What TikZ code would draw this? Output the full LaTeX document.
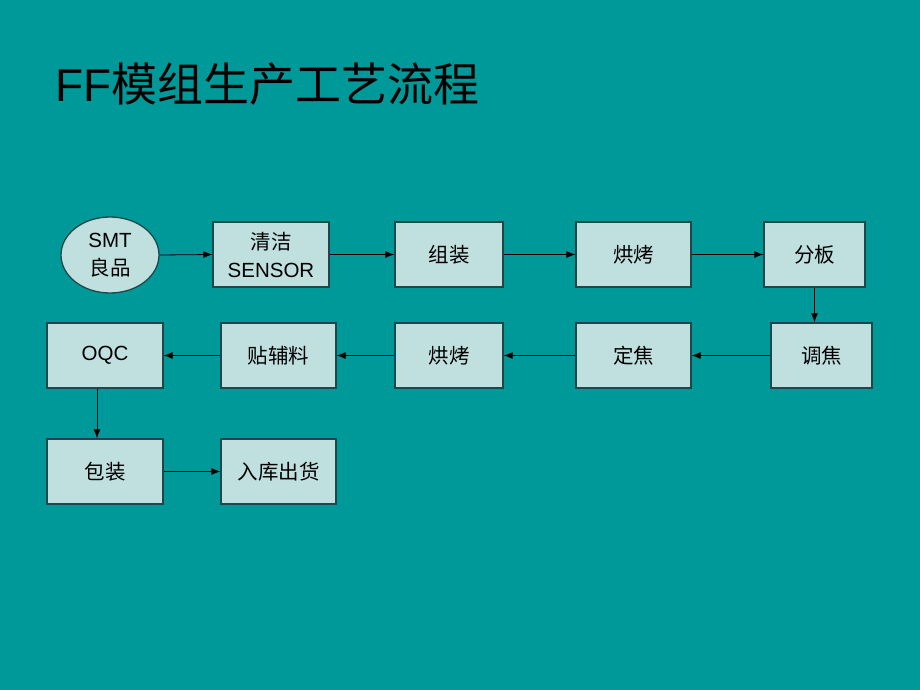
\documentclass[tikz,border=0pt]{standalone}
\usepackage{fontspec}
\setmainfont{Liberation Sans}
\newfontfamily\cjk{Noto Sans CJK SC}
\usetikzlibrary{arrows.meta,shapes.geometric}
\definecolor{bgteal}{HTML}{009999}
\definecolor{boxfill}{HTML}{C0E0E0}
\definecolor{boxline}{HTML}{1E4848}
\tikzset{
  stepbox/.style={draw=boxline, line width=1.3pt, fill=boxfill, inner sep=0pt, align=center, font=\fontsize{20.5}{28}\selectfont},
  flow/.style={draw=black, line width=0.8pt, -{Latex[length=9pt,width=7pt]}},
}
\begin{document}
\begin{tikzpicture}[x=1pt,y=-1pt]
\fill[bgteal] (0,0) rectangle (920,690);
\useasboundingbox (0,0) rectangle (920,690);
\node[anchor=base west, font=\fontsize{46}{50}\selectfont, inner sep=0pt] (title) at (55,102) {FF{\cjk 模组生产工艺流程}};
% row 1
\node[stepbox, ellipse, minimum width=98pt, minimum height=76pt] (smt) at (110,255) {SMT\\{\cjk 良品}};
\node[stepbox, minimum width=116pt, minimum height=65pt] (clean) at (271,254.5) {{\cjk 清洁}\\SENSOR};
\node[stepbox, minimum width=108pt, minimum height=65pt] (asm) at (449,254.5) {\cjk 组装};
\node[stepbox, minimum width=115pt, minimum height=65pt] (bake1) at (633.5,254.5) {\cjk 烘烤};
\node[stepbox, minimum width=101pt, minimum height=65pt] (split) at (814.5,254.5) {\cjk 分板};
% row 2
\node[stepbox, minimum width=101pt, minimum height=65pt] (adj) at (821.5,355.5) {\cjk 调焦};
\node[stepbox, minimum width=115pt, minimum height=65pt] (fix) at (633.5,355.5) {\cjk 定焦};
\node[stepbox, minimum width=108pt, minimum height=65pt] (bake2) at (449,355.5) {\cjk 烘烤};
\node[stepbox, minimum width=115pt, minimum height=65pt] (attach) at (278.5,355.5) {\cjk 贴辅料};
\node[stepbox, minimum width=116pt, minimum height=65pt] (oqc) at (105,355.5) {OQC};
% row 3
\node[stepbox, minimum width=116pt, minimum height=65pt] (pack) at (105,471.5) {\cjk 包装};
\node[stepbox, minimum width=115pt, minimum height=65pt] (store) at (278.5,471.5) {\cjk 入库出货};
% connectors
\draw[flow] (smt.east) -- (clean.west);
\draw[flow] (clean.east) -- (asm.west);
\draw[flow] (asm.east) -- (bake1.west);
\draw[flow] (bake1.east) -- (split.west);
\draw[flow] (split.south) -- (split.south |- adj.north);
\draw[flow] (adj.west) -- (fix.east);
\draw[flow] (fix.west) -- (bake2.east);
\draw[flow] (bake2.west) -- (attach.east);
\draw[flow] (attach.west) -- (oqc.east);
\draw[flow] ([xshift=-8pt]oqc.south) -- ([xshift=-8pt]pack.north);
\draw[flow] (pack.east) -- (store.west);
\end{tikzpicture}
\end{document}
